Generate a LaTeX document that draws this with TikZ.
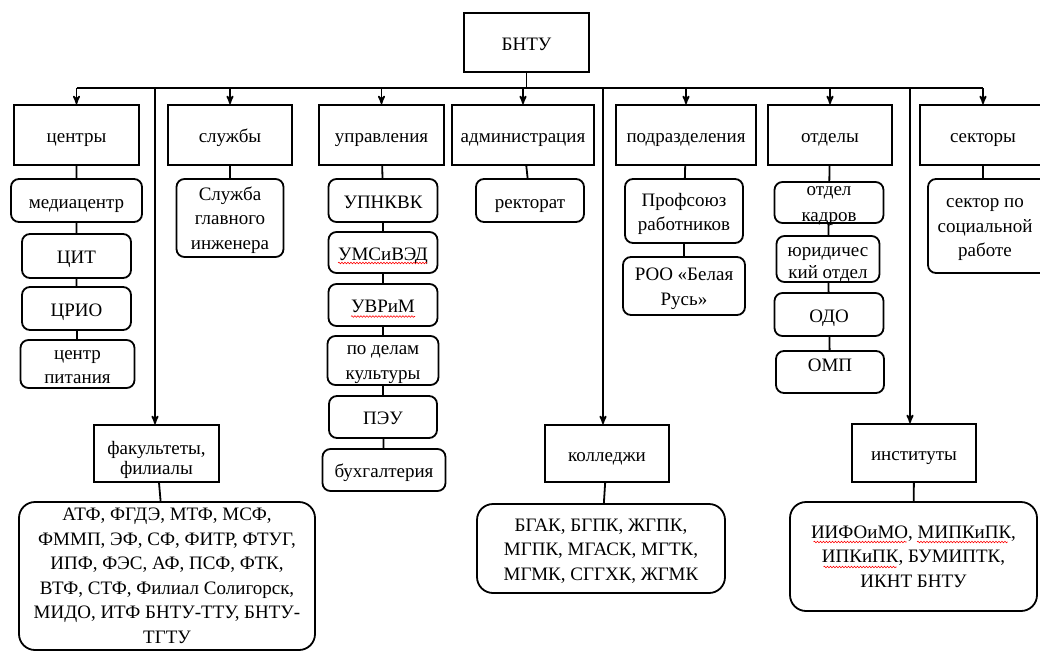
\documentclass[tikz,border=0pt]{standalone}
\usepackage{fontspec}
\setmainfont{Liberation Serif}
\usetikzlibrary{arrows,positioning,decorations.pathmorphing}

\begin{document}
\begin{tikzpicture}[x=1pt,y=-1pt,line width=1.8pt,>=stealth',
    every node/.style={font=\fontsize{19}{24.5}\selectfont,align=center,inner sep=2pt},
    one/.style={text height=15pt,text depth=0pt},
    txt/.style 2 args={label={[yshift=#1]center:#2}},
    head/.style={draw,rectangle,minimum height=60pt,one},
    unit/.style={draw,rounded corners=8pt,minimum height=43pt,one},
    list/.style={draw,rounded corners=16pt},
    spell/.style={draw=red,line width=0.6pt,decorate,decoration={snake,amplitude=0.8pt,segment length=3pt}}]
\useasboundingbox (0,0) rectangle (1040,653);

\node[head,minimum width=125pt,minimum height=59pt] (root) at (526.5,42.5) {БНТУ};
\coordinate (hub) at (526.5,88);

\foreach \x/\w/\t [count=\n] in {76.5/125/центры,230/124/службы,381.5/125/управления,523/142/администрация,686/140/подразделения,830/124/отделы,983/126/секторы}
    \node[head,minimum width=\w pt] (T\n) at (\x,135) {\t};

\draw (root) -- (hub);
\draw (T1.north |- hub) -- (T7.north |- hub);
\foreach \n in {1,...,7}
    \draw[->] (T\n.north |- hub) -- (T\n.north);

% lower level
\node[head,minimum width=125pt,minimum height=57pt,
      label={[yshift=-6.3pt,font=\fontsize{19}{20}\selectfont]center:факультеты,\\филиалы}] (F) at (156.5,453.5) {};
\node[head,minimum width=124pt,minimum height=57pt] (K) at (607,453.5) {колледжи};
\node[head,minimum width=124pt,minimum height=58pt] (I) at (914,453) {институты};
\coordinate (dF) at (155,88);
\coordinate (dK) at (603,88);
\coordinate (dI) at (910,88);
\foreach \d/\b in {dF/F,dK/K,dI/I}
    \draw[->] (\d) -- (\d |- \b.north);

\node[list,minimum width=296pt,minimum height=148pt] (FL) at (167,576) {АТФ, ФГДЭ, МТФ, МСФ,\\ФММП, ЭФ, СФ, ФИТР, ФТУГ,\\ИПФ, ФЭС, АФ, ПСФ, ФТК,\\ВТФ, СТФ, Филиал Солигорск,\\МИДО, ИТФ БНТУ-ТТУ, БНТУ-\\ТГТУ};
\node[list,minimum width=248pt,minimum height=89pt,txt={-2.4pt}{БГАК, БГПК, ЖГПК,\\МГПК, МГАСК, МГТК,\\МГМК, СГГХК, ЖГМК}] (KL) at (601,548.5) {};
\node[list,minimum width=247pt,minimum height=109pt] (IL) at (913.5,556.5) {ИИФОиМО, МИПКиПК,\\ИПКиПК, БУМИПТК,\\ИКНТ БНТУ};
\draw (F) -- (FL);
\draw (K) -- (KL);
\draw (I) -- (IL);

% центры
\node[unit,minimum width=131pt] (C1) at (76.5,200.5) {медиацентр};
\node[unit,minimum width=109pt,minimum height=44pt] (C2) at (76.5,256) {ЦИТ};
\node[unit,minimum width=109pt] (C3) at (76.5,308.5) {ЦРИО};
\node[unit,minimum width=114pt,minimum height=48pt,txt={-3.3pt}{центр\\питания}] (C4) at (77.5,364) {};
\draw (T1) -- (C1) -- (C2) -- (C3) -- (C4);

% службы
\node[unit,minimum width=107pt,minimum height=78pt,txt={-2pt}{Служба\\главного\\инженера}] (S1) at (230,218) {};
\draw (T2) -- (S1);

% управления
\node[unit,minimum width=109pt] (U1) at (383,200.5) {УПНКВК};
\node[unit,minimum width=109pt,minimum height=41pt] (U2) at (383,252.5) {УМСиВЭД};
\node[unit,minimum width=109pt,minimum height=42pt] (U3) at (383,305) {УВРиМ};
\node[unit,minimum width=111pt,minimum height=49pt,txt={-3.9pt}{по делам\\культуры}] (U4) at (383,360.5) {};
\node[unit,minimum width=108pt,minimum height=42pt] (U5) at (383,417) {ПЭУ};
\node[unit,minimum width=123pt,minimum height=42pt] (U6) at (384,470) {бухгалтерия};
\draw (T3) -- (U1) -- (U2) -- (U3) -- (U4) -- (U5) -- (U6);

% администрация
\node[unit,minimum width=108pt] (R1) at (530,200.5) {ректорат};
\draw (T4) -- (R1);

% подразделения
\node[unit,minimum width=118pt,minimum height=64pt,txt={-3.1pt}{Профсоюз\\работников}] (P1) at (684,211) {};
\node[unit,minimum width=122pt,minimum height=58pt,txt={-3pt}{РОО «Белая\\Русь»}] (P2) at (684,286) {};
\draw (T5) -- (P1) -- (P2);

% отделы
\node[unit,minimum width=109pt,minimum height=41pt,
      label={[yshift=-3.6pt,font=\fontsize{19}{26}\selectfont]center:отдел\\кадров}] (O1) at (829,202.5) {};
\node[unit,minimum width=103pt,minimum height=46pt,
      label={[yshift=-5.7pt,font=\fontsize{19}{22}\selectfont]center:юридичес\\кий отдел}] (O2) at (828,259) {};
\node[unit,minimum width=109pt] (O3) at (829,314.5) {ОДО};
\node[unit,minimum width=108pt,minimum height=42pt,text height=0pt,text depth=2pt] (O4) at (830,372) {ОМП};
\draw (T6) -- (O1) -- (O2) -- (O3) -- (O4);

% секторы
\node[unit,minimum width=124pt,minimum height=94pt,
      label={[xshift=-5pt,yshift=-3.6pt]center:сектор по\\социальной\\работе}] (E1) at (990,226) {};
\draw (T7) -- (T7 |- E1.north);

% spell-check marks
\draw[spell] ([xshift=-45pt,yshift=-3pt]U2.base) -- ([xshift=44pt,yshift=-3pt]U2.base);
\draw[spell] ([xshift=-32pt,yshift=-4pt]U3.base) -- ([xshift=32pt,yshift=-4pt]U3.base);
\draw[spell] ([xshift=-100pt,yshift=14.5pt]IL.center) -- ([xshift=-7pt,yshift=14.5pt]IL.center);
\draw[spell] ([xshift=3.5pt,yshift=14.5pt]IL.center) -- ([xshift=94pt,yshift=14.5pt]IL.center);
\draw[spell] ([xshift=-90pt,yshift=-10.5pt]IL.center) -- ([xshift=-17pt,yshift=-10.5pt]IL.center);
\end{tikzpicture}
\end{document}
